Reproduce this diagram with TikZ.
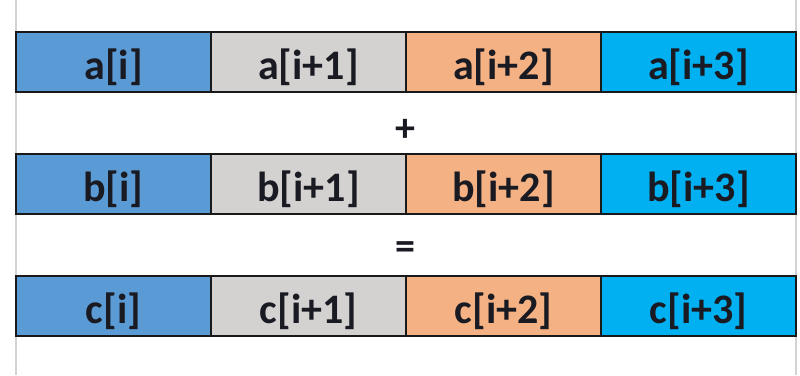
\documentclass[tikz,border=0pt]{standalone}
\usepackage{fontspec}
\setmainfont{Carlito}
\usepackage{xcolor}
\usetikzlibrary{positioning}
\definecolor{cellblue}{HTML}{5B9BD5}
\definecolor{cellgray}{HTML}{D4D2D0}
\definecolor{cellorange}{HTML}{F4B183}
\definecolor{cellcyan}{HTML}{00B0F0}
\definecolor{rulegray}{HTML}{D3D3D3}
\definecolor{inkdark}{HTML}{1A1A22}

\begin{document}
\begin{tikzpicture}[
    x=1pt, y=-1pt,
    node distance=0pt,
    cell/.style={rectangle, draw=black!90, line width=2.8pt, outer sep=0pt, minimum width=195pt, minimum height=60pt, inner sep=0pt, text height=36pt, text depth=2pt, text=inkdark, font=\fontsize{42}{46}\selectfont\bfseries},
    op/.style={inner sep=0pt, text=inkdark, font=\fontsize{40}{44}\selectfont\bfseries},
]
\useasboundingbox (0,0) rectangle (800,375);

% side rules
\draw[rulegray, line width=2pt] (16,0) -- (16,375);
\draw[rulegray, line width=2pt] (796,0) -- (796,375);

% Row a
\node[cell, fill=cellblue] (a0) at (113.5,62) {a[i]};
\node[cell, fill=cellgray, right=of a0] (a1) {a[i+1]};
\node[cell, fill=cellorange, right=of a1] (a2) {a[i+2]};
\node[cell, fill=cellcyan, right=of a2] (a3) {a[i+3]};

\node[op] (plus) at (405,130) {+};

% Row b
\node[cell, fill=cellblue] (b0) at (113.5,184) {b[i]};
\node[cell, fill=cellgray, right=of b0] (b1) {b[i+1]};
\node[cell, fill=cellorange, right=of b1] (b2) {b[i+2]};
\node[cell, fill=cellcyan, right=of b2] (b3) {b[i+3]};

\node[op] (eq) at (405,251) {=};

% Row c
\node[cell, fill=cellblue] (c0) at (113.5,306) {c[i]};
\node[cell, fill=cellgray, right=of c0] (c1) {c[i+1]};
\node[cell, fill=cellorange, right=of c1] (c2) {c[i+2]};
\node[cell, fill=cellcyan, right=of c2] (c3) {c[i+3]};

\end{tikzpicture}
\end{document}
